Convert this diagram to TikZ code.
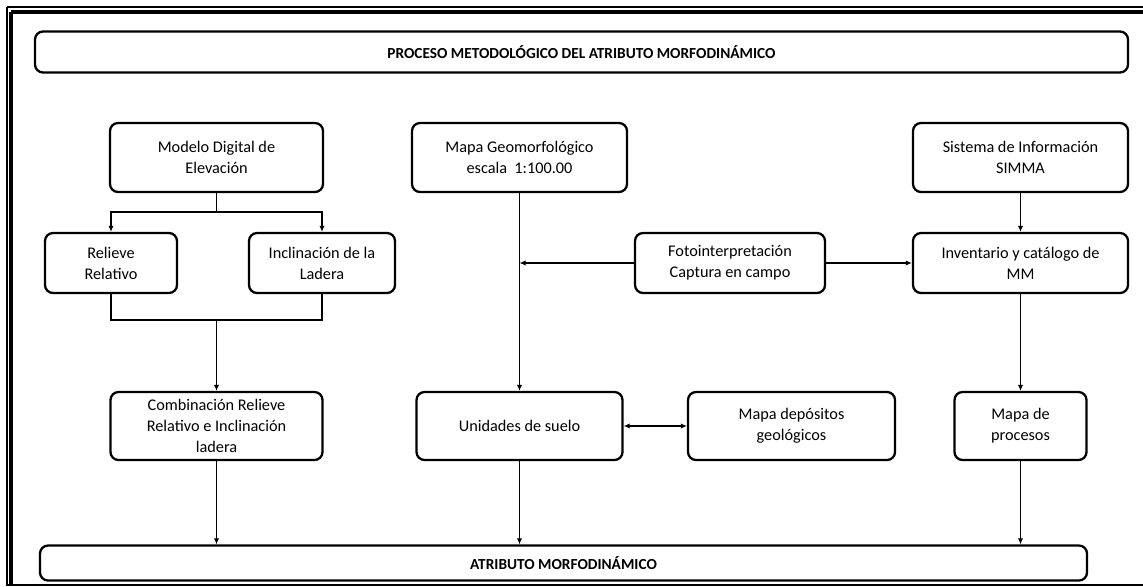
\documentclass[tikz,border=0pt]{standalone}
\usepackage{fontspec}
\setmainfont{Carlito}
\usepackage{tikz}
\usetikzlibrary{arrows.meta,positioning,calc}
\tikzset{
  box/.style={rectangle, draw, line width=1.7pt, rounded corners=6pt, align=center, inner sep=2pt, font=\fontsize{12.2}{15.75}\selectfont},
  headbox/.style={box, font=\fontsize{11.5}{13}\selectfont\bfseries},
  line/.style={line width=1.4pt},
  arrow/.style={line, -{Latex[length=4.5pt,width=4pt]}},
  biarrow/.style={line, {Latex[length=4.5pt,width=4pt]}-{Latex[length=4.5pt,width=4pt]}},
}

\begin{document}
\begin{tikzpicture}[x=0.75pt, y=-0.75pt]
  \useasboundingbox (0,0) rectangle (1143,586);

  % frame
  \draw[line width=0.9pt] (7,7) -- (1143,7);
  \draw[line width=0.9pt] (7,7) -- (7,586);
  \draw[line width=2.4pt] (11,12) -- (1143,12);
  \draw[line width=2.4pt] (11,12) -- (11,584);
  \draw[line width=0.9pt] (7,585) -- (1143,585);

  % title and result
  \node[headbox, minimum width=819.75pt, minimum height=30.75pt] (titulo) at (581.5,52) {PROCESO METODOLÓGICO DEL ATRIBUTO MORFODINÁMICO};
  \node[headbox, minimum width=785.25pt, minimum height=26.25pt] (final) at (563.5,563) {ATRIBUTO MORFODINÁMICO};

  % left column
  \node[box, minimum width=159.75pt, minimum height=51.75pt] (modelo) at (216.5,157.5) {Modelo Digital de\\Elevación};
  \node[box, minimum width=99pt, minimum height=45pt] (relieve) at (111,263) {Relieve\\Relativo};
  \node[box, minimum width=109.5pt, minimum height=45pt] (inclina) at (322,263) {Inclinación de la\\Ladera};
  \node[box, minimum width=159pt, minimum height=51pt] (combina) at (216.5,426) {Combinación Relieve\\Relativo e Inclinación\\ladera};

  % middle column
  \node[box, minimum width=161.25pt, minimum height=51.75pt] (mapageo) at (519.5,157.5) {Mapa Geomorfológico\\escala~ 1:100.00};
  \node[box, minimum width=142.5pt, minimum height=45pt] (foto) at (730,263) {Fotointerpretación\\Captura en campo};
  \node[box, minimum width=154.5pt, minimum height=51pt] (unidades) at (519.5,426) {Unidades de suelo};
  \node[box, minimum width=155.25pt, minimum height=51pt] (depositos) at (791.5,426) {Mapa depósitos\\geológicos};

  % right column
  \node[box, minimum width=161.25pt, minimum height=51.75pt] (sistema) at (1020.5,157.5) {Sistema de Información\\SIMMA};
  \node[box, minimum width=161.25pt, minimum height=45pt] (invent) at (1020.5,263) {Inventario y catálogo de\\MM};
  \node[box, minimum width=99pt, minimum height=51pt] (procesos) at (1020.5,426) {Mapa de\\procesos};

  % connectors left
  \coordinate (split) at (216.5,212);
  \coordinate (merge) at (216.5,320);
  \draw[line] (modelo.south) -- (split);
  \draw[arrow] (split) -| (relieve.north);
  \draw[arrow] (split) -| (inclina.north);
  \draw[line] (relieve.south) |- (merge);
  \draw[line] (inclina.south) |- (merge);
  \draw[arrow] (merge) -- (combina.north);
  \draw[arrow] (combina.south) -- (combina.south |- final.north);

  % connectors middle
  \coordinate (cruce) at (mapageo.south |- foto.west);
  \draw[arrow] (mapageo.south) -- (unidades.north);
  \draw[arrow] (foto.west) -- (cruce);
  \draw[biarrow] (unidades.east) -- (depositos.west);
  \draw[arrow] (unidades.south) -- (unidades.south |- final.north);

  % connectors right
  \draw[arrow] (foto.east) -- (invent.west);
  \draw[arrow] (sistema.south) -- (invent.north);
  \draw[arrow] (invent.south) -- (procesos.north);
  \draw[arrow] (procesos.south) -- (procesos.south |- final.north);
\end{tikzpicture}
\end{document}
